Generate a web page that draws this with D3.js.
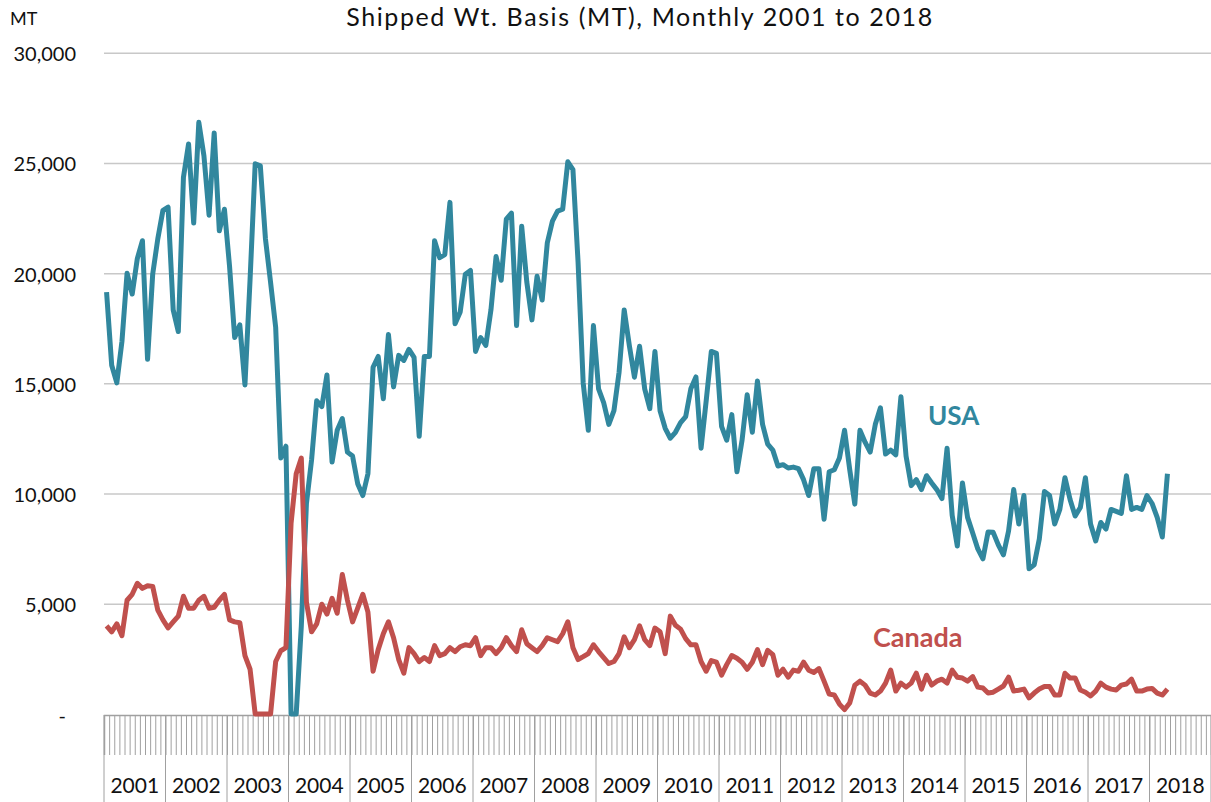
<!DOCTYPE html>
<html>
<head>
<meta charset="utf-8">
<script src="https://cdn.jsdelivr.net/npm/d3@7"></script>
<style>
  body { margin: 0; background: #fff; }
  svg text { font-family: Lato, "Open Sans", sans-serif; }
</style>
</head>
<body>
<div class="chart"></div>
<script>
// data: monthly MT, Jan 2001 .. Apr 2018

var years = ["2001", "2002", "2003", "2004", "2005", "2006", "2007", "2008", "2009",
  "2010", "2011", "2012", "2013", "2014", "2015", "2016", "2017", "2018"];

var yTicks = [0, 5000, 10000, 15000, 20000, 25000, 30000];

var usa = [
  19140, 15820, 15020, 16900, 20000, 19050, 20660, 21470, 16090, 19950, 21560, 22850, // 2001
  22990, 18330, 17350, 24340, 25860, 22270, 26840, 25320, 22630, 26360, 21920, 22900, // 2002
  20300, 17080, 17650, 14930, 19700, 24960, 24870, 21560, 19590, 17530, 11610, 12150, // 2003
  0, 0, 3990, 9550, 11520, 14210, 13940, 15380, 11430, 12870, 13400, 11880,           // 2004
  11700, 10450, 9910, 10900, 15730, 16220, 14300, 17220, 14840, 16270, 16040, 16540,  // 2005
  16180, 12600, 16220, 16220, 21470, 20700, 20840, 23210, 17700, 18240, 19950, 20120, // 2006
  16450, 17080, 16720, 18330, 20750, 19680, 22450, 22720, 17620, 22130, 19590, 17880, // 2007
  19860, 18780, 21380, 22360, 22810, 22900, 25050, 24700, 20500, 15020, 12870, 17620, // 2008
  14750, 14120, 13140, 13760, 15500, 18330, 16720, 15280, 16680, 14750, 13850, 16450, // 2009
  13760, 12960, 12510, 12780, 13220, 13490, 14750, 15290, 12060, 14210, 16450, 16360, // 2010
  13050, 12420, 13580, 10990, 12420, 14480, 12780, 15110, 13140, 12240, 11970, 11250, // 2011
  11310, 11160, 11200, 11130, 10630, 9910, 11130, 11130, 8830, 10990, 11080, 11610,   // 2012
  12870, 11100, 9520, 12870, 12330, 11880, 13140, 13890, 11790, 11970, 11760, 14390,  // 2013
  11700, 10360, 10630, 10180, 10810, 10480, 10180, 9770, 12060, 9010, 7620, 10480,    // 2014
  8920, 8210, 7490, 7040, 8260, 8240, 7670, 7220, 8300, 10180, 8620, 9910,            // 2015
  6590, 6770, 7940, 10090, 9910, 8620, 9280, 10720, 9730, 8980, 9370, 10720,          // 2016
  8620, 7850, 8690, 8390, 9280, 9190, 9100, 10810, 9280, 9370, 9280, 9910,            // 2017
  9550, 8920, 8030, 10900                                                             // 2018
];

var canada = [
  4000, 3730, 4090, 3550, 5160, 5430, 5930, 5700, 5820, 5790, 4710, 4270,   // 2001
  3910, 4180, 4440, 5340, 4800, 4800, 5160, 5340, 4800, 4840, 5160, 5430,   // 2002
  4270, 4180, 4140, 2650, 2030, 0, 0, 0, 0, 2380, 2870, 3010,               // 2003
  8650, 10900, 11610, 5070, 3730, 4090, 4980, 4530, 5250, 4570, 6330, 5160, // 2004
  4180, 4800, 5430, 4620, 1940, 2920, 3640, 4180, 3460, 2470, 1850, 3010,   // 2005
  2740, 2380, 2560, 2380, 3100, 2650, 2740, 3010, 2830, 3050, 3140, 3100,   // 2006
  3460, 2650, 3010, 3010, 2740, 3010, 3460, 3100, 2830, 3820, 3190, 3010,   // 2007
  2830, 3100, 3460, 3370, 3280, 3640, 4180, 3010, 2470, 2600, 2740, 3140,   // 2008
  2830, 2560, 2290, 2380, 2740, 3500, 3010, 3370, 4000, 3370, 3100, 3900,   // 2009
  3730, 2740, 4440, 4030, 3850, 3420, 3140, 3140, 2380, 1940, 2420, 2350,   // 2010
  1760, 2240, 2650, 2530, 2350, 2030, 2350, 2920, 2240, 2890, 2690, 1760,   // 2011
  2030, 1670, 1990, 1940, 2350, 1990, 1880, 2060, 1490, 900, 860, 450,      // 2012
  200, 500, 1310, 1490, 1310, 950, 860, 1040, 1400, 1990, 1040, 1400,       // 2013
  1220, 1400, 1850, 1130, 1760, 1310, 1490, 1580, 1400, 1990, 1670, 1630,   // 2014
  1490, 1700, 1220, 1180, 950, 990, 1130, 1270, 1670, 1040, 1080, 1130,     // 2015
  730, 950, 1130, 1250, 1250, 860, 860, 1850, 1630, 1630, 1090, 990,        // 2016
  820, 1040, 1400, 1220, 1130, 1090, 1310, 1360, 1580, 1040, 1040, 1130,    // 2017
  1160, 950, 860, 1130                                                      // 2018
];

// canvas
var width = 1211;
var height = 802;
var left = 104;
var right = 1211;
var svg = d3
  .select(".chart")
  .append("svg")
  .attr("width", width)
  .attr("height", height);

var months = years.length * 12;
var x = d3.scaleLinear().domain([0, months]).range([left, right]);
var y = d3.scaleLinear().domain([0, 30000]).range([714, 52.7]);

// gridlines
svg
  .append("g")
  .attr("transform", "translate(" + left + ",0)")
  .call(d3.axisLeft(y).tickValues(yTicks.slice(1)).tickSize(-(right - left)).tickFormat(""))
  .call((g) => g.select(".domain").remove())
  .selectAll("line")
  .attr("stroke", "#c8c8c8")
  .attr("stroke-width", 1.5);

// y labels
var yAxis = svg
  .append("g")
  .attr("transform", "translate(" + left + ",0)")
  .call(
    d3
      .axisLeft(y)
      .tickValues(yTicks)
      .tickSize(0)
      .tickPadding(28)
      .tickFormat((d) => (d === 0 ? "-" : d3.format(",")(d)))
  );
yAxis.select(".domain").remove();
yAxis
  .selectAll("text")
  .attr("font-family", null)
  .attr("font-size", 20)
  .attr("fill", "#111")
  .attr("dy", "0.4em")
  .attr("dx", (d) => (d === 0 ? -10 : 0));

// x axis: month ticks
var xAxis = svg
  .append("g")
  .attr("transform", "translate(0,715)")
  .call(d3.axisBottom(x).tickValues(d3.range(0, months + 1)).tickSize(40).tickFormat(""));
xAxis.select(".domain").attr("stroke", "#a0a0a0").attr("stroke-width", 1.5);
xAxis.selectAll("line").attr("stroke", "#a0a0a0");

// year separators
svg
  .append("g")
  .selectAll("line")
  .data(d3.range(0, years.length + 1))
  .enter()
  .append("line")
  .attr("x1", (d) => x(d * 12))
  .attr("x2", (d) => x(d * 12))
  .attr("y1", 715)
  .attr("y2", height)
  .attr("stroke", "#a0a0a0");

// year labels
svg
  .append("g")
  .selectAll("text")
  .data(years)
  .enter()
  .append("text")
  .attr("x", (d, i) => x(i * 12 + 6))
  .attr("y", 793)
  .attr("text-anchor", "middle")
  .attr("font-size", 21)
  .attr("fill", "#111")
  .text((d) => d);

// lines
var line = d3
  .line()
  .x((d, i) => x(i + 0.5))
  .y((d) => y(d));

svg
  .append("path")
  .datum(usa)
  .attr("d", line)
  .attr("fill", "none")
  .attr("stroke", "#31879e")
  .attr("stroke-width", 5)
  .attr("stroke-linejoin", "round");

svg
  .append("path")
  .datum(canada)
  .attr("d", line)
  .attr("fill", "none")
  .attr("stroke", "#c0504d")
  .attr("stroke-width", 5)
  .attr("stroke-linejoin", "round");

// series labels
svg
  .append("text")
  .attr("x", 928)
  .attr("y", 425)
  .attr("font-size", 26)
  .attr("font-weight", "bold")
  .attr("fill", "#31879e")
  .text("USA");

svg
  .append("text")
  .attr("x", 873)
  .attr("y", 647)
  .attr("font-size", 27)
  .attr("font-weight", "bold")
  .attr("fill", "#c0504d")
  .text("Canada");

// title
svg
  .append("text")
  .attr("x", 640)
  .attr("y", 26)
  .attr("text-anchor", "middle")
  .attr("font-size", 25)
  .attr("letter-spacing", 1.6)
  .attr("fill", "#111")
  .text("Shipped Wt. Basis (MT), Monthly 2001 to 2018");

svg
  .append("text")
  .attr("x", 10)
  .attr("y", 25)
  .attr("font-size", 18)
  .attr("fill", "#111")
  .text("MT");
</script>
</body>
</html>
